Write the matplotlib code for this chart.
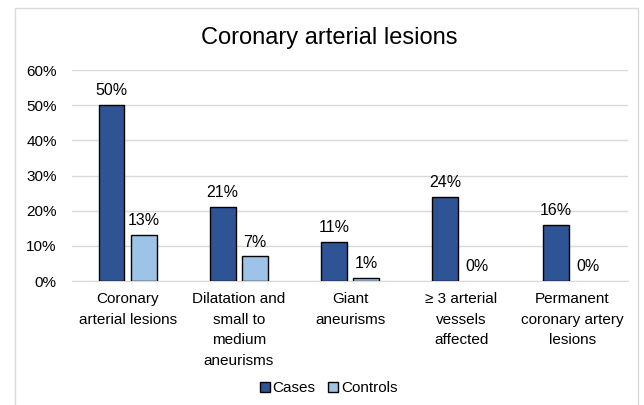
import numpy as np
import matplotlib
matplotlib.use("Agg")
import matplotlib.pyplot as plt
from matplotlib.patches import Rectangle

plt.rcParams["font.family"] = ["Liberation Sans", "DejaVu Sans"]

# Chart data
categories = ["Coronary\narterial lesions",
              "Dilatation and\nsmall to\nmedium\naneurisms",
              "Giant\naneurisms",
              "\u2265 3 arterial\nvessels\naffected",
              "Permanent\ncoronary artery\nlesions"]
cases = [50, 21, 11, 24, 16]
controls = [13, 7, 1, 0, 0]
yticks = [0, 10, 20, 30, 40, 50, 60]

dark_blue = "#2E5495"
light_blue = "#9DC3E6"

fig = plt.figure(figsize=(6.44, 4.05), dpi=100)
ax = fig.add_axes([0.112, 0.306, 0.863, 0.521])

# light outer frame like the exported chart area
fig.patches.append(Rectangle((0.024, -0.01), 0.966, 0.99, transform=fig.transFigure,
                             fill=False, edgecolor="#d9d9d9", linewidth=1))

x = np.arange(len(categories))
w = 0.23
off = 0.145
b1 = ax.bar(x - off, cases, w, color=dark_blue, edgecolor="black", linewidth=1,
            label="Cases", zorder=3)
b2 = ax.bar(x + off, controls, w, color=light_blue, edgecolor="black", linewidth=1,
            label="Controls", zorder=3)

for bars, vals in [(b1, cases), (b2, controls)]:
    for bar, v in zip(bars, vals):
        if v == 0:
            bar.set_linewidth(0)  # empty bars show no outline
        ax.annotate(f"{v}%", (bar.get_x() + bar.get_width() / 2, v),
                    xytext=(0, 5), textcoords="offset points",
                    ha="center", va="bottom", fontsize=11.5)

ax.set_xlim(-0.5, len(categories) - 0.5)
ax.set_ylim(0, 60)
ax.set_yticks(yticks)
ax.set_yticklabels([f"{t}%" for t in yticks], fontsize=11)
ax.set_xticks(x)
ax.set_xticklabels(categories, fontsize=11, linespacing=1.6)
ax.tick_params(length=0, pad=8)
ax.tick_params(axis="y", pad=11)

ax.grid(axis="y", color="#d9d9d9", linewidth=1, zorder=0)
for s in ["top", "right", "left"]:
    ax.spines[s].set_visible(False)
ax.spines["bottom"].set_color("#d9d9d9")

fig.text(0.512, 0.905, "Coronary arterial lesions", ha="center", va="center", fontsize=17)

fig.legend(handles=[b1, b2], loc="center", bbox_to_anchor=(0.51, 0.042), ncol=2,
           frameon=False, fontsize=11, handlelength=0.65, handleheight=0.65,
           handletextpad=0.2, columnspacing=0.8)

plt.savefig("out.png", dpi=100)
